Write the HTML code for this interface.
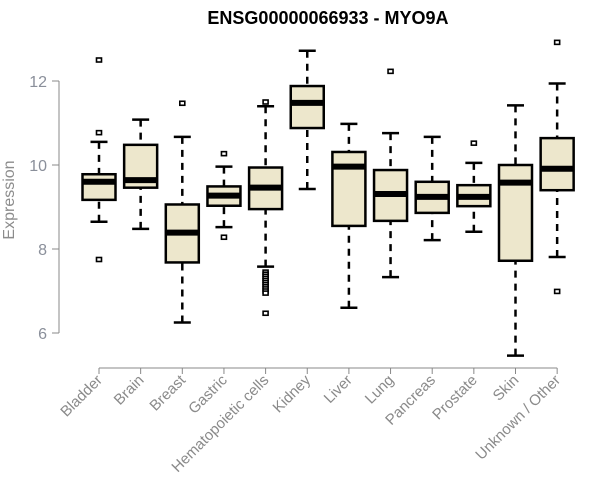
<!DOCTYPE html>
<html><head><meta charset="utf-8"><style>body{margin:0;background:#fff}svg{display:block;font-family:"Liberation Sans",Arial,sans-serif}</style></head>
<body>
<svg id="chart" width="600" height="500" viewBox="0 0 600 500">
<text x="328" y="24" text-anchor="middle" font-weight="bold" font-size="18">ENSG00000066933 - MYO9A</text>
<text transform="translate(14,200) rotate(-90)" text-anchor="middle" font-size="16" fill="#8c8c8c">Expression</text>
<g id="axes"></g><g id="boxes"></g>
</svg>
<script>
const categories=["Bladder","Brain","Breast","Gastric","Hematopoietic cells","Kidney","Liver","Lung","Pancreas","Prostate","Skin","Unknown / Other"];
const whiskerLow=[8.65,8.48,6.25,8.52,7.58,9.43,6.60,7.33,8.21,8.41,5.46,7.81];
const q1=[9.17,9.46,7.68,9.03,8.95,10.88,8.55,8.67,8.86,9.02,7.72,9.40];
const median=[9.60,9.64,8.39,9.27,9.46,11.48,9.96,9.31,9.24,9.24,9.58,9.91];
const q3=[9.78,10.48,9.06,9.49,9.94,11.88,10.31,9.88,9.60,9.52,10.00,10.64];
const whiskerHigh=[10.55,11.08,10.67,9.96,11.40,12.72,10.98,10.76,10.67,10.05,11.42,11.94];
const outliers=[[12.5,10.77,7.75],[],[11.47],[10.27,8.28],[11.5,7.45,7.4,7.35,7.3,7.25,7.2,7.15,7.1,7.05,7.0,6.95,6.47],[],[],[12.23],[],[10.52],[],[12.92,6.99]];
const yTicks=[6,8,10,12];
const NS="http://www.w3.org/2000/svg";
const y=v=>333-(v-6)*42;
const x=i=>99+i*41.65;
function mk(tag,attrs,parent){const e=document.createElementNS(NS,tag);for(const k in attrs)e.setAttribute(k,attrs[k]);parent.appendChild(e);return e;}
const ax=document.getElementById('axes'),bx=document.getElementById('boxes');
let l=mk('line',{x1:59,x2:59,y1:y(12),y2:y(6),stroke:'#888','stroke-width':1},ax);


yTicks.forEach(t=>{
 let tk=mk('line',{x1:52,x2:59,y1:y(t),y2:y(t),stroke:'#888'},ax);
 
 
 let tx=mk('text',{x:47,y:y(t)+6,'text-anchor':'end','font-size':16,fill:'#8a8f9a'},ax);
 tx.textContent=t;
 
 
});
let xl=mk('line',{x1:x(0),x2:x(categories.length-1),y1:368,y2:368,stroke:'#888'},ax);


categories.forEach((c,i)=>{
 const cx=x(i);
 let tk=mk('line',{x1:cx,x2:cx,y1:368,y2:374,stroke:'#888'},ax);
 
 
 let tx=mk('text',{transform:`translate(${cx+4},${381}) rotate(-45)`,'text-anchor':'end','font-size':15,fill:'#8a8a8a'},ax);
 tx.textContent=c;
 
 
 const g=mk('g',{},bx);
 
 
 mk('line',{x1:cx,x2:cx,y1:y(whiskerHigh[i]),y2:y(q3[i]),stroke:'#000','stroke-width':2.5,'stroke-dasharray':'7,6'},g);
 mk('line',{x1:cx,x2:cx,y1:y(whiskerLow[i]),y2:y(q1[i]),stroke:'#000','stroke-width':2.5,'stroke-dasharray':'7,6'},g);
 mk('line',{x1:cx-8.5,x2:cx+8.5,y1:y(whiskerHigh[i]),y2:y(whiskerHigh[i]),stroke:'#000','stroke-width':2.5},g);
 mk('line',{x1:cx-8.5,x2:cx+8.5,y1:y(whiskerLow[i]),y2:y(whiskerLow[i]),stroke:'#000','stroke-width':2.5},g);
 mk('rect',{x:cx-16.5,y:y(q3[i]),width:33,height:y(q1[i])-y(q3[i]),fill:'#ede7cc',stroke:'#000','stroke-width':2.5},g);
 mk('line',{x1:cx-16.5,x2:cx+16.5,y1:y(median[i]),y2:y(median[i]),stroke:'#000','stroke-width':6},g);
 outliers[i].forEach(o=>{mk('rect',{x:cx-2.5,y:y(o)-2,width:5,height:4,fill:'#fff',stroke:'#000','stroke-width':1.6},g);});
});
</script>
</body></html>
